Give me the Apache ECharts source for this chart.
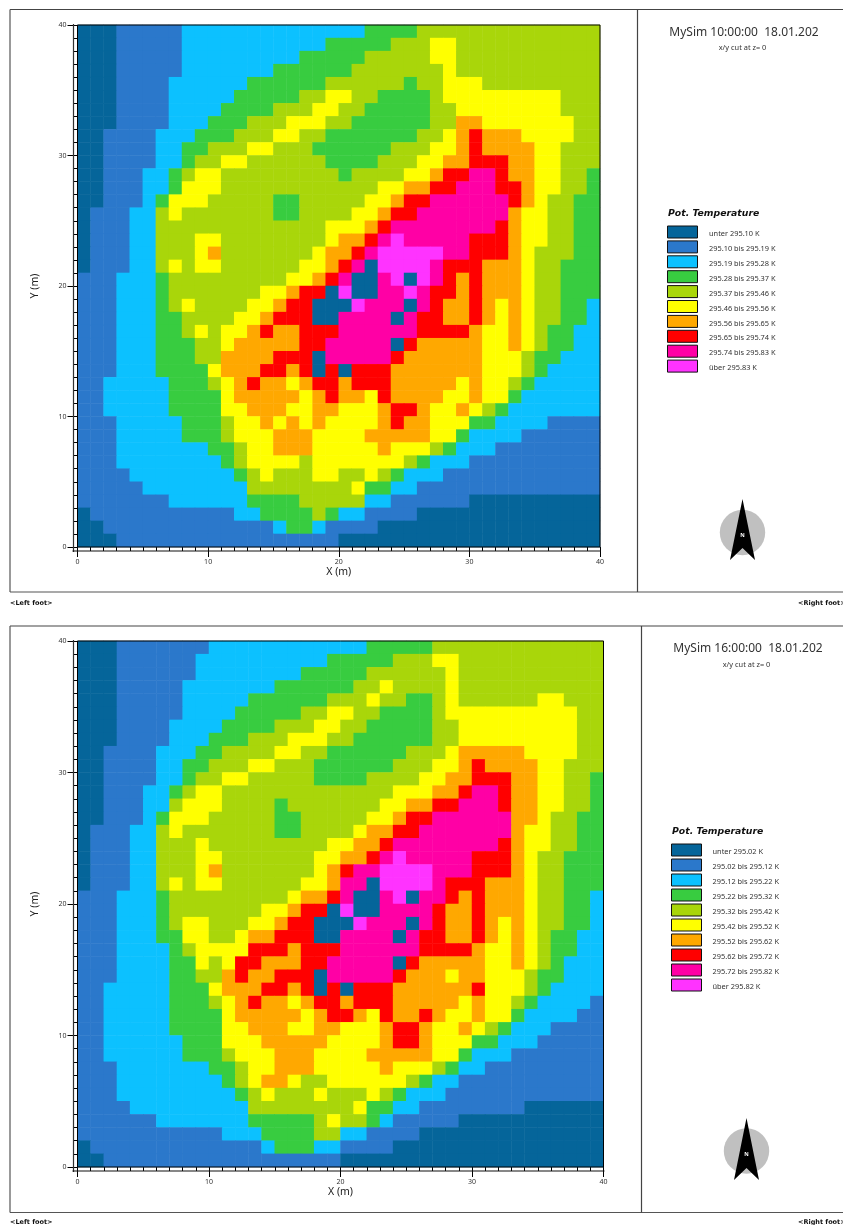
<!DOCTYPE html>
<html><head><meta charset="utf-8">
<style>html,body{margin:0;padding:0;background:#fff;overflow:hidden}#c{width:843px;height:1225px}</style>
<script src="https://cdn.jsdelivr.net/npm/echarts@6/dist/echarts.min.js"></script>
</head><body><div id="c"></div>
<script>
// Class index of each 1 m cell (0 = lowest class, 9 = highest); first row is y = 39, last is y = 0.
const classes1000 = [
"0001111122222222222 222333344444444444444",
"0001111122222222222 333334445544444444444",
"0001111122222222233 333444445544444444444",
"0001111122222223333 334444444544444444444",
"0001111222222333333 444444344555444444444",
"0001111222223333344 554433334555555555444",
"0001111222233334445 544333334455555555444",
"0001111222333444555 443333334466555555544",
"0011112223334445544 333333344567666555544",
"0011112233444554443 333334445567666655444",
"0011112234455444444 333344455667776655444",
"0011122345544444444 434444556778876655443",
"0011122355544444444 444455667788877655443",
"0011123555444443344 444556778888887654433",
"0111224544444443344 445567788888886554433",
"0111224444444444444 555678888888876554433",
"0111224445544444444 566789888887776554433",
"0111224445644444445 667899999887776544433",
"0111224545544444455 678099998777666544333",
"1112223444444444556 780089098767666544333",
"1112223444444455677 090088987767666544333",
"1112223454444556770 009888087667656544332",
"1112223344445567770 088880877667656544332",
"1112223345455676677 788888877776556543322",
"1112223334456666677 888880766666556543322",
"1112223334466667770 888887666666555433222",
"1112223333566677670 707776666666555432222",
"1122222333456766567 767776666656554322222",
"1122222333356666656 766576666556553222222",
"1122222333355666556 655567765565432222222",
"1112222233345565656 555567665553322221111",
"1112222233345556665 555666665532222111111",
"1112222222334556665 555565554322211111111",
"1112222222234555545 555555432221111111111",
"1111222222223454445 544543222111111111111",
"1111122222222444444 445332211111111111111",
"1111111222222333344 444221111110000000000",
"0111111111112233334 322111100000000000000",
"0011111111111112332 111100000000000000000",
"0001111111111111111 100000000000000000000"
];
const classes1600 = [
"0001111111222222222 222333334444444444444",
"0001111112222222222 333334445544444444444",
"0001111112222222233 333444444544444444444",
"0001111122222223333 334454444544444444444",
"0001111122222333333 444544334544444455444",
"0001111122223333344 554433334555555555544",
"0001111222233334445 544333334455555555544",
"0001111222333444555 443333334455555555544",
"0011112223344445544 333333444566666555544",
"0011112233444554443 333334445567666655444",
"0011112234455444443 333444455667776655443",
"0011122345544444444 444445556678876655443",
"0011122455544443444 444455667788876655443",
"0011123555444443344 444556778888886654433",
"0111224544444443344 445667788888886554433",
"0111224445444444444 556678888888876554433",
"0111224445544444445 566789888887776544333",
"0111224445644444445 678899998887776544333",
"0111224545544444455 688099998777666544333",
"1112223444444444566 780089088767666544332",
"1112223444444455677 090088887667666544332",
"1112223455444556770 009888087667656544332",
"1112223355445667770 088880877667656543322",
"1112222345555777677 788888877776556543322",
"1112222335457766677 888880766666556543222",
"1112222334467667770 888887666566555433222",
"1122222333566677670 707776666667555432222",
"1122222333456766567 767776666656554322221",
"1122222333356666656 776576676556553222211",
"1122222333355666556 655567765565432221111",
"1122222233355566666 555567765553322211111",
"1122222233345556665 555666665532221111111",
"1112222222334556665 555565554322111111111",
"1112222222234566544 555555432211111111111",
"1112222222223454445 444543222111111111111",
"1111222222222444444 445332211111111000000",
"1111112222222333334 544321111100000000000",
"1111111111122233334 422111100000000000000",
"0111111111111123332 211110000000000000000",
"0011111111111111111 100000000000000000000"
];
const classColors = ["#05659a","#2b78cb","#0cc1ff","#38cc40","#a9d60a","#ffff00","#ffa800","#ff0000","#ff00a5","#ff33ff"];
const legendTitle = "Pot. Temperature";
const labels1000 = ["unter 295.10 K","295.10 bis 295.19 K","295.19 bis 295.28 K","295.28 bis 295.37 K","295.37 bis 295.46 K","295.46 bis 295.56 K","295.56 bis 295.65 K","295.65 bis 295.74 K","295.74 bis 295.83 K","über 295.83 K"];
const labels1600 = ["unter 295.02 K","295.02 bis 295.12 K","295.12 bis 295.22 K","295.22 bis 295.32 K","295.32 bis 295.42 K","295.42 bis 295.52 K","295.52 bis 295.62 K","295.62 bis 295.72 K","295.72 bis 295.82 K","über 295.82 K"];
const cellIndex = Array.from({length:40},(_,i)=>i);
const FONT = "Noto Sans";
const BOLDFONT = "DejaVu Sans";

function toCells(rows){
  const out=[];
  rows.forEach((row,r)=>{
    const s=row.replace(' ','');
    if(s.length!==40) throw new Error('row '+r+' has '+s.length);
    for(let c=0;c<40;c++) out.push([c,39-r,+s[c]]);
  });
  return out;
}
const panels=[
 {rows:classes1000,labels:labels1000,title:"MySim 10:00:00  18.01.202",
  grid:{left:77.5,top:25,width:522.5,height:522},frame:{l:10,t:9.5,b:592,div:637.5},
  titleX:744,titleY:33,subY:47.5,legX:667.5,legTitleY:214,legY:226,legStep:14.9,labX:709,
  north:{x:742.5,y:532.5,tip:499,bot:560,notch:548},foot:{y:603}},
 {rows:classes1600,labels:labels1600,title:"MySim 16:00:00  18.01.202",
  grid:{left:77.5,top:641,width:526,height:526},frame:{l:10,t:626,b:1212.5,div:641.5},
  titleX:748,titleY:649,subY:664.5,legX:671.5,legTitleY:832,legY:844,legStep:15,labX:712.5,
  north:{x:746.5,y:1151,tip:1118,bot:1180,notch:1168},foot:{y:1222}}
];
const graphic=[];
const line=(x1,y1,x2,y2,w,col,z)=>graphic.push({type:'line',silent:true,z:z||1,shape:{x1,y1,x2,y2},style:{stroke:col||'#555',lineWidth:w||1}});
const text=(x,y,t,size,o)=>graphic.push({type:'text',silent:true,z:5,x,y,style:Object.assign({text:t,font:`${(o&&o.weight)||'normal'} ${size}px "${(o&&o.family)||FONT}"`,fill:'#222',verticalAlign:'middle',align:'left'},o&&o.style)});
panels.forEach(p=>{
  const f=p.frame,g=p.grid;
  line(f.l,f.t,843,f.t,1.2,'#444'); line(f.l,f.b,843,f.b,1.2,'#555');
  line(f.l,f.t,f.l,f.b,1.2,'#555'); line(f.div,f.t,f.div,f.b,1.2,'#444');
  // plot border and detached axis lines
  graphic.push({type:'rect',silent:true,z:4,shape:{x:g.left,y:g.top,width:g.width,height:g.height},style:{fill:'none',stroke:'#000',lineWidth:1}});
  line(g.left-4,g.top-1,g.left-4,g.top+g.height+5,1.2,'#333',4);
  line(g.left-5,g.top+g.height+4,g.left+g.width+1,g.top+g.height+4,1.2,'#111',4);
  text(p.titleX,p.titleY,p.title,12,{style:{align:'center',fill:'#333'}});
  text(p.titleX-1.5,p.subY,"x/y cut at z= 0",7.4,{style:{align:'center',fill:'#333'}});
  graphic.push({type:'text',silent:true,z:5,x:p.legX+0.5,y:p.legTitleY,style:{text:legendTitle,font:`italic bold 9.3px "${BOLDFONT}"`,fill:'#111',verticalAlign:'middle'}});
  p.labels.forEach((lab,i)=>{
    const y=p.legY+i*p.legStep;
    graphic.push({type:'rect',silent:true,z:5,shape:{x:p.legX,y,width:30,height:12},style:{fill:classColors[i],stroke:'#111',lineWidth:1}});
    text(p.labX,y+8,lab,7.4,{style:{fill:'#333'}});
  });
  const n=p.north;
  graphic.push({type:'circle',silent:true,z:4,shape:{cx:n.x,cy:n.y,r:22.7},style:{fill:'#c0c0c0'}});
  graphic.push({type:'polygon',silent:true,z:5,shape:{points:[[n.x,n.tip],[n.x+12.5,n.bot],[n.x,n.notch],[n.x-12.5,n.bot]]},style:{fill:'#000'}});
  text(n.x,n.y+3,"N",5.5,{weight:'bold',style:{align:'center',fill:'#fff'}});
  text(10,p.foot.y,"<Left foot>",6.5,{weight:'bold',family:BOLDFONT,style:{fill:'#111'}});
  text(798,p.foot.y,"<Right foot>",6.5,{weight:'bold',family:BOLDFONT,style:{fill:'#111'}});
});
const xAxis=[],yAxis=[],series=[];
panels.forEach((p,i)=>{
  const base=i*2;
  xAxis.push({type:'category',gridIndex:i,data:cellIndex,show:false});
  yAxis.push({type:'category',gridIndex:i,data:cellIndex,show:false});
  xAxis.push({type:'value',gridIndex:i,min:0,max:40,interval:10,position:'bottom',
    axisLine:{show:false,onZero:false},axisTick:{show:true,length:10,lineStyle:{color:'#000',width:1}},
    minorTick:{show:true,splitNumber:10,length:4,lineStyle:{color:'#000',width:1}},splitLine:{show:false},minorSplitLine:{show:false},
    axisLabel:{show:true,margin:11,fontSize:7,color:'#333',fontFamily:FONT,hideOverlap:false,showMinLabel:true,showMaxLabel:true},
    name:'X (m)',nameLocation:'middle',nameGap:20,nameTextStyle:{fontSize:10.5,color:'#222',fontFamily:FONT}});
  yAxis.push({type:'value',gridIndex:i,min:0,max:40,interval:10,position:'left',
    axisLine:{show:false,onZero:false},axisTick:{show:true,length:10,lineStyle:{color:'#000',width:1}},
    minorTick:{show:true,splitNumber:10,length:4,lineStyle:{color:'#000',width:1}},splitLine:{show:false},minorSplitLine:{show:false},
    axisLabel:{show:true,margin:11,fontSize:7,color:'#333',fontFamily:FONT,showMinLabel:true,showMaxLabel:true},
    name:'Y (m)',nameLocation:'middle',nameGap:37,nameTextStyle:{fontSize:10.5,color:'#222',fontFamily:FONT}});
  series.push({type:'heatmap',xAxisIndex:base,yAxisIndex:base,data:toCells(p.rows),silent:true,progressive:0,animation:false,
    itemStyle:{borderWidth:0},emphasis:{disabled:true}});
});
const chart=echarts.init(document.getElementById('c'),null,{renderer:'canvas'});
chart.setOption({
  animation:false,backgroundColor:'#fff',
  grid:panels.map(p=>Object.assign({containLabel:false},p.grid)),
  xAxis,yAxis,series,
  visualMap:{type:'piecewise',show:false,dimension:2,seriesIndex:[0,1],
    pieces:classColors.map((color,i)=>({value:i,color}))},
  graphic:{elements:graphic}
});
</script></body></html>
